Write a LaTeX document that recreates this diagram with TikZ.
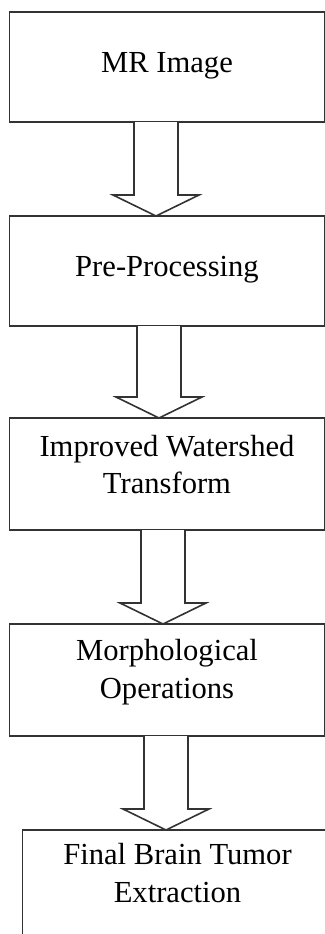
\documentclass[tikz,border=0pt]{standalone}
\usepackage{fontspec}
\setmainfont{Liberation Serif}
\usetikzlibrary{positioning, calc}
\tikzset{
  stage/.style={
    rectangle, draw=black!80, line width=0.8pt, fill=white, outer sep=0pt,
    minimum width=157.5pt, minimum height=55pt,
    align=center, font=\fontsize{15.3pt}{18.75pt}\selectfont,
    text height=10pt, text depth=4.5pt
  },
  twoline/.style={minimum height=56pt, text height=28.75pt, text depth=10.75pt},
  flow/.style={draw=black!80, line width=0.8pt, fill=white, line join=miter}
}
\begin{document}
\begin{tikzpicture}[node distance=47pt]
  \useasboundingbox (0,0) rectangle (162.5pt,-467pt);
  \node[stage] (mr) at (83.5pt,-33.5pt) {MR Image};
  \node[stage, below=of mr] (pre) {Pre-Processing};
  \node[stage, twoline, text depth=9.25pt, below=46pt of pre] (iwt) {Improved Watershed\\Transform};
  \node[stage, twoline, below=of iwt] (morph) {Morphological\\Operations};
  \node[stage, twoline, text depth=12.75pt, minimum width=155pt, below=of morph, xshift=5.25pt] (final) {Final Brain Tumor\\Extraction};
  % block arrows between the stages
  \foreach \src/\dst/\dx in {mr/pre/-5.5pt, pre/iwt/-4pt, iwt/morph/-2pt, morph/final/-0.5pt}{
    \coordinate (from) at ([xshift=\dx]\src.south);
    \coordinate (tip) at (from |- \dst.north);
    \draw[flow] ([xshift=-11pt]from) -- ([xshift=-11pt, yshift=10.5pt]tip) -- ([xshift=-21.5pt, yshift=10.5pt]tip) -- (tip)
      -- ([xshift=21.5pt, yshift=10.5pt]tip) -- ([xshift=11pt, yshift=10.5pt]tip) -- ([xshift=11pt]from);
  }
\end{tikzpicture}
\end{document}
